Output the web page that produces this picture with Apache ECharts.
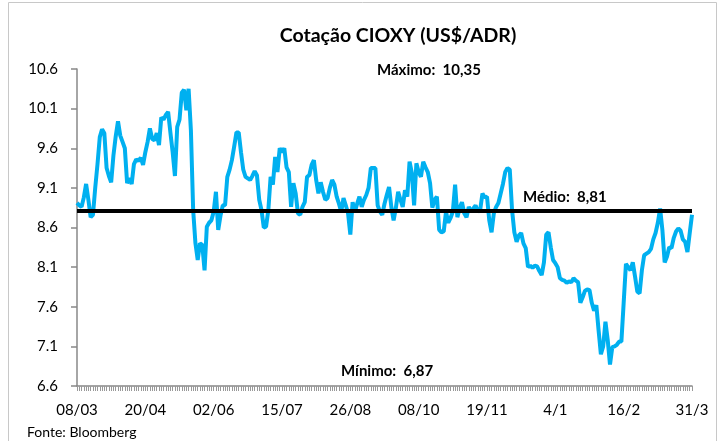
<!DOCTYPE html>
<html>
<head>
<meta charset="utf-8">
<script src="https://cdn.jsdelivr.net/npm/echarts@6/dist/echarts.min.js"></script>
<style>
  html, body { margin: 0; padding: 0; background: #fff; }
  #chart { width: 720px; height: 441px; }
</style>
</head>
<body>
<div id="chart"></div>
<script>
var tickLabels = ['08/03', '20/04', '02/06', '15/07', '26/08', '08/10', '19/11', '4/1', '16/2', '31/3'];
var yTicks = [6.6, 7.1, 7.6, 8.1, 8.6, 9.1, 9.6, 10.1, 10.6];
var mediaValor = 8.81;
var maximoValor = 10.35;
var minimoValor = 6.87;

// cotação diária (US$/ADR)
var cotacao = [
  8.91, 8.88, 8.86, 8.98, 9.15, 8.95, 8.73, 8.76, 9.10, 9.40,
  9.74, 9.84, 9.79, 9.35, 9.25, 9.17, 9.51, 9.75, 9.94, 9.76,
  9.68, 9.60, 9.16, 9.22, 9.15, 9.40, 9.46, 9.44, 9.48, 9.39,
  9.55, 9.68, 9.85, 9.72, 9.70, 9.79, 9.64, 9.99, 9.96, 10.02,
  10.06, 9.80, 9.55, 9.25, 9.87, 9.96, 10.30, 10.34, 10.08, 10.35,
  9.83, 8.82, 8.40, 8.19, 8.40, 8.38, 8.06, 8.61, 8.66, 8.69,
  8.80, 9.05, 8.57, 8.75, 8.88, 8.88, 9.24, 9.33, 9.45, 9.62,
  9.80, 9.80, 9.55, 9.33, 9.24, 9.22, 9.20, 9.25, 9.31, 9.26,
  8.95, 8.82, 8.60, 8.61, 8.82, 9.24, 9.14, 9.49, 9.30, 9.60,
  9.55, 9.60, 9.36, 9.30, 8.86, 9.16, 9.03, 8.78, 8.76, 8.86,
  8.92, 9.24, 9.26, 9.39, 9.45, 9.20, 9.03, 9.17, 9.05, 8.95,
  8.97, 9.10, 9.20, 9.14, 8.99, 8.90, 8.80, 8.97, 8.88, 8.78,
  8.51, 8.92, 8.80, 8.90, 8.99, 8.86, 8.95, 9.01, 9.10, 9.35,
  9.35, 9.35, 8.88, 8.80, 8.76, 8.90, 9.01, 9.11, 8.86, 8.69,
  8.85, 9.05, 8.95, 8.86, 9.07, 8.99, 9.43, 9.29, 8.88, 9.41,
  9.30, 9.24, 9.43, 9.36, 9.30, 9.16, 8.85, 8.95, 8.99, 8.57,
  8.54, 8.55, 8.80, 8.66, 8.72, 8.80, 9.14, 8.73, 8.85, 8.92,
  8.78, 8.73, 8.86, 8.80, 8.84, 8.88, 8.80, 8.82, 9.03, 8.98,
  8.99, 8.69, 8.54, 8.78, 8.86, 8.91, 9.03, 9.15, 9.30, 9.35,
  9.33, 8.82, 8.54, 8.42, 8.50, 8.53, 8.40, 8.34, 8.10, 8.12,
  8.09, 8.12, 8.11, 8.05, 8.00, 8.16, 8.51, 8.54, 8.35, 8.19,
  8.15, 8.10, 7.96, 7.94, 7.93, 7.90, 7.92, 7.91, 7.96, 7.93,
  7.91, 7.65, 7.72, 7.80, 7.82, 7.81, 7.65, 7.55, 7.62, 7.30,
  7.00, 7.10, 7.41, 7.18, 6.87, 7.09, 7.10, 7.12, 7.16, 7.16,
  7.65, 8.14, 8.10, 8.06, 8.16, 7.98, 7.79, 7.77, 8.06, 8.25,
  8.27, 8.29, 8.33, 8.45, 8.53, 8.66, 8.84, 8.57, 8.16, 8.23,
  8.35, 8.34, 8.47, 8.55, 8.59, 8.56, 8.45, 8.42, 8.29, 8.53,
  8.76
];

var labelStep = 30;
var categorias = cotacao.map(function(v, i) {
  return i % labelStep === 0 ? tickLabels[i / labelStep] : '';
});

function fmt(v) { return v.toFixed(2).replace('.', ','); }

var font = 'Lato, "Open Sans", sans-serif';
var chart = echarts.init(document.getElementById('chart'));

chart.setOption({
  animation: false,
  textStyle: { fontFamily: font },
  grid: { left: 77, right: 28, top: 69, bottom: 55, containLabel: false },
  xAxis: {
    type: 'category',
    data: categorias,
    boundaryGap: false,
    axisLine: { lineStyle: { color: '#888', width: 1.5 } },
    axisTick: { show: true, interval: 0, length: 5, lineStyle: { color: '#999', width: 1 } },
    axisLabel: { interval: 0, color: '#000', fontSize: 15, margin: 17, fontFamily: font },
    splitLine: { show: false }
  },
  yAxis: {
    type: 'value',
    min: yTicks[0],
    max: yTicks[yTicks.length - 1],
    axisLine: { show: true, lineStyle: { color: '#888', width: 1.5 } },
    axisTick: { show: true, length: 6, customValues: yTicks, lineStyle: { color: '#888', width: 1.5 } },
    axisLabel: {
      customValues: yTicks,
      color: '#000', fontSize: 15, margin: 19, fontFamily: font,
      formatter: function(v) { return v.toFixed(1); }
    },
    splitLine: { show: false }
  },
  series: [{
    type: 'line',
    data: cotacao,
    showSymbol: false,
    lineStyle: { color: '#00B0F0', width: 4 },
    itemStyle: { color: '#00B0F0' },
    markLine: {
      silent: true,
      symbol: 'none',
      label: { show: false },
      lineStyle: { color: '#000', width: 4, type: 'solid' },
      data: [{ yAxis: mediaValor }]
    }
  }],
  graphic: [
    { type: 'rect', shape: { x: 8.5, y: 2.5, width: 708, height: 445 }, style: { fill: 'none', stroke: '#c8c8c8', lineWidth: 1 }, silent: true },
    { type: 'text', x: 398, y: 26, style: { text: 'Cotação CIOXY (US$/ADR)', font: 'bold 19.5px ' + font, fill: '#000', align: 'center' } },
    { type: 'text', x: 377, y: 63, style: { text: 'Máximo:  ' + fmt(maximoValor), font: 'bold 15px ' + font, fill: '#000' } },
    { type: 'text', x: 523, y: 190, style: { text: 'Médio:  ' + fmt(mediaValor), font: 'bold 15px ' + font, fill: '#000' } },
    { type: 'text', x: 341, y: 364, style: { text: 'Mínimo:  ' + fmt(minimoValor), font: 'bold 15px ' + font, fill: '#000' } },
    { type: 'text', x: 27, y: 425, style: { text: 'Fonte: Bloomberg', font: '14px ' + font, fill: '#000' } }
  ]
});
</script>
</body>
</html>
